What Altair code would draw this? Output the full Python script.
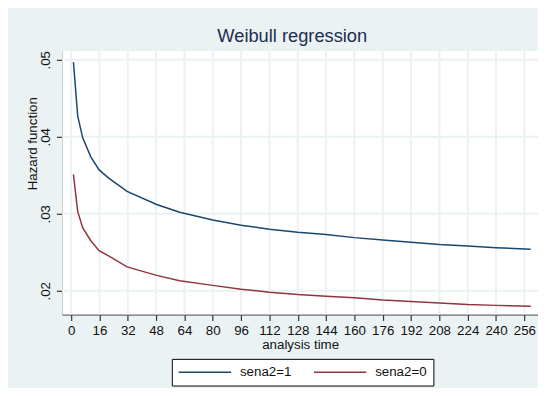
import altair as alt
import pandas as pd

# analysis time points
times = [1.3, 3.7, 6.5, 11.1, 15.8, 21.4, 31.6, 48.3, 61.3, 80, 96, 112, 128,
         144, 160, 176, 192, 208, 224, 240, 259.6]
hazard_sena1 = [0.0497, 0.0427, 0.0399, 0.0374, 0.0357, 0.0346, 0.0329, 0.0312,
                0.0302, 0.0292, 0.0285, 0.0280, 0.0276, 0.0273, 0.0269, 0.0266,
                0.0263, 0.0260, 0.0258, 0.0256, 0.0254]
hazard_sena0 = [0.0351, 0.0303, 0.0282, 0.0265, 0.0252, 0.0245, 0.0231, 0.0220,
                0.0213, 0.0207, 0.0202, 0.0198, 0.0195, 0.0193, 0.0191, 0.0188,
                0.0186, 0.0184, 0.0182, 0.0181, 0.0180]
series_names = ["sena2=1", "sena2=0"]
series_colors = ["#1A476F", "#90353B"]
x_ticks = list(range(0, 257, 16))
y_ticks = [0.02, 0.03, 0.04, 0.05]
x_domain = [-5, 263.7]
y_domain = [0.01692, 0.05115]

rows = []
for name, vals in zip(series_names, [hazard_sena1, hazard_sena0]):
    for t, v in zip(times, vals):
        rows.append({"time": t, "hazard": v, "series": name})
df = pd.DataFrame(rows)
xgrid_df = pd.DataFrame({"time": x_ticks})
ygrid_df = pd.DataFrame({"hazard": y_ticks})

FONT = "Liberation Sans"
BG = "#EAF2F3"

xscale = alt.Scale(domain=x_domain, nice=False, zero=False)
yscale = alt.Scale(domain=y_domain, nice=False, zero=False)

xaxis = alt.Axis(values=x_ticks, title="analysis time", grid=False,
                 labelFontSize=13.5, titleFontSize=13.5, labelPadding=3,
                 titlePadding=1, tickSize=6, labelOverlap=False,
                 labelFlush=False, titleFontWeight="normal")
yaxis = alt.Axis(values=y_ticks, title="Hazard function", grid=False,
                 labelExpr="substring(format(datum.value, '.2f'), 1)",
                 labelAngle=-90, labelAlign="center",
                 labelBaseline="alphabetic", labelPadding=7,
                 labelOverlap=False,
                 labelFontSize=13.5, titleFontSize=13.5, tickSize=6,
                 titleAngle=-90, titleX=-30, titleY=93.5,
                 titleAlign="center", titleBaseline="middle",
                 titleFontWeight="normal")

plot_bg = alt.Chart().mark_rect(fill="#FFFFFF").encode(
    x=alt.X(datum=x_domain[0], type="quantitative", scale=xscale, axis=xaxis),
    x2=alt.datum(x_domain[1]),
    y=alt.Y(datum=y_domain[0], type="quantitative", scale=yscale, axis=yaxis),
    y2=alt.datum(y_domain[1]),
)

vgrid = alt.Chart(xgrid_df).mark_rule(color=BG, strokeWidth=2).encode(
    x=alt.X("time:Q", scale=xscale, axis=xaxis),
)

hgrid = alt.Chart(ygrid_df).mark_rule(color=BG, strokeWidth=2).encode(
    y=alt.Y("hazard:Q", scale=yscale, axis=yaxis),
)

lines = alt.Chart(df).mark_line(strokeWidth=1.5).encode(
    x=alt.X("time:Q", scale=xscale, axis=xaxis),
    y=alt.Y("hazard:Q", scale=yscale, axis=yaxis),
    color=alt.Color("series:N",
                    scale=alt.Scale(domain=series_names, range=series_colors),
                    legend=alt.Legend(title=None, orient="none", legendX=111,
                                      legendY=312, direction="horizontal",
                                      symbolType="stroke", symbolSize=2809,
                                      clipHeight=15,
                                      symbolStrokeWidth=1.5, labelFontSize=13.5,
                                      labelOffset=8, columnPadding=21,
                                      padding=6, strokeColor="#000000",
                                      fillColor="#FFFFFF",
                                      labelColor="#111111")),
)

chart = alt.layer(plot_bg, vgrid, hgrid, lines).properties(
    width=482,
    height=267,
    title=alt.TitleParams("Weibull regression", fontSize=18.5, font=FONT,
                          fontWeight="normal", color="#1E2D4F",
                          anchor="middle", baseline="alphabetic", offset=8,
                          dx=-8, dy=18),
    autosize=alt.AutoSizeParams(type="none"),
    padding={"left": 55, "top": 41, "right": 0, "bottom": 72},
    background=BG,
).configure_view(
    stroke=None
).configure_axis(
    labelFont=FONT, titleFont=FONT, labelColor="#111111", titleColor="#111111",
    domainColor="#333333", tickColor="#333333", domainWidth=1.2, tickWidth=1.2
).configure_legend(
    labelFont=FONT
)

chart.save("out.html", embed_options={"renderer": "svg", "actions": False})
